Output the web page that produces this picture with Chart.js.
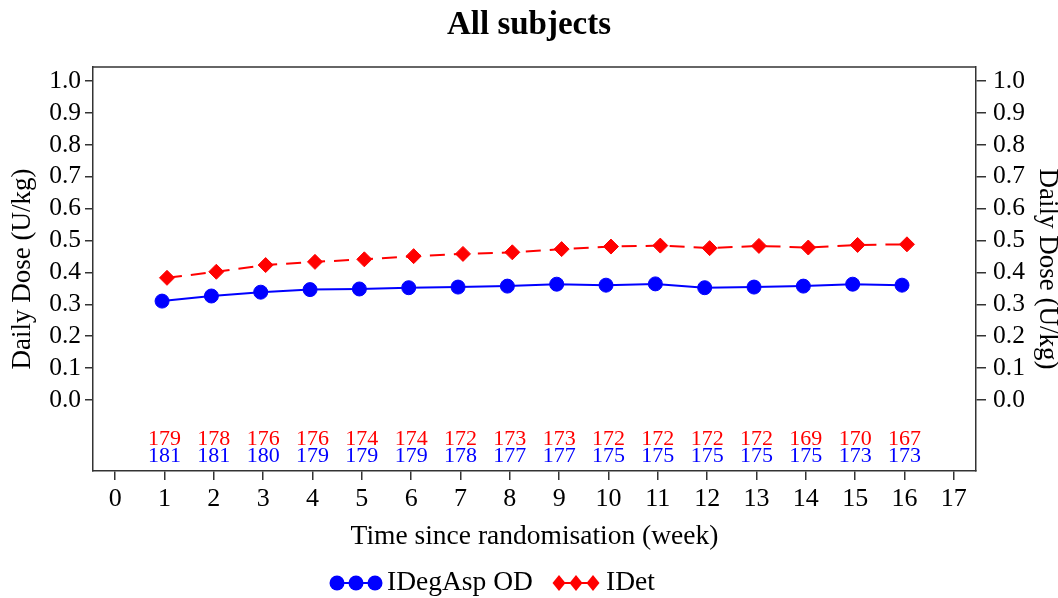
<!DOCTYPE html>
<html>
<head>
<meta charset="utf-8">
<script src="https://cdn.jsdelivr.net/npm/chart.js@4"></script>
<style>
html,body{margin:0;padding:0;background:#fff;}
#wrap{width:1058px;height:598px;}
</style>
</head>
<body>
<div id="wrap"><canvas id="c" width="1058" height="598"></canvas></div>
<script>
const weeks = [1,2,3,4,5,6,7,8,9,10,11,12,13,14,15,16];
const idegaspDose = [0.310,0.326,0.338,0.346,0.348,0.352,0.354,0.357,0.363,0.360,0.364,0.352,0.354,0.357,0.363,0.360];
const idetDose = [0.383,0.402,0.423,0.433,0.441,0.451,0.458,0.463,0.473,0.481,0.484,0.476,0.483,0.478,0.486,0.488];
const idegaspN = [181,181,180,179,179,179,178,177,177,175,175,175,175,175,173,173];
const idetN = [179,178,176,176,174,174,172,173,173,172,172,172,172,169,170,167];
const yTickValues = [0,0.1,0.2,0.3,0.4,0.5,0.6,0.7,0.8,0.9,1.0];
const xTickValues = [0,1,2,3,4,5,6,7,8,9,10,11,12,13,14,15,16,17];
const seriesNames = ['IDegAsp OD','IDet'];
const titleText = 'All subjects';
const yTitle = 'Daily Dose (U/kg)';
const xTitle = 'Time since randomisation (week)';

const SERIF = "'Liberation Serif','Times New Roman',serif";
const BLUE = '#0000ff', RED = '#ff0000', AX = '#333333';
const YMIN = -0.2226, YMAX = 1.0439;
const X_OFF = 0.05;

const countsPlugin = {
  id: 'extras',
  afterDraw(chart) {
    const ctx = chart.ctx, xs = chart.scales.x, ys = chart.scales.y, a = chart.chartArea;
    ctx.save();
    // top border of box
    ctx.strokeStyle = AX; ctx.lineWidth = 1.5;
    ctx.beginPath(); ctx.moveTo(a.left, a.top); ctx.lineTo(a.right, a.top); ctx.stroke();
    // counts
    ctx.font = '22px ' + SERIF;
    ctx.textAlign = 'center'; ctx.textBaseline = 'middle';
    weeks.forEach((w, i) => {
      const px = xs.getPixelForValue(w);
      ctx.fillStyle = RED;
      ctx.fillText(String(idetN[i]), px, ys.getPixelForValue(-0.122));
      ctx.fillStyle = BLUE;
      ctx.fillText(String(idegaspN[i]), px, ys.getPixelForValue(-0.175));
    });
    // legend
    const ly = 583;
    ctx.lineWidth = 2;
    ctx.strokeStyle = BLUE; ctx.fillStyle = BLUE;
    ctx.beginPath(); ctx.moveTo(337, ly); ctx.lineTo(375, ly); ctx.stroke();
    [337,356,375].forEach(cx => { ctx.beginPath(); ctx.arc(cx, ly, 7.5, 0, Math.PI*2); ctx.fill(); });
    ctx.strokeStyle = RED; ctx.fillStyle = RED;
    ctx.beginPath(); ctx.moveTo(559, ly); ctx.lineTo(593, ly); ctx.stroke();
    [559,576,593].forEach(cx => { ctx.beginPath(); ctx.moveTo(cx, ly-8); ctx.lineTo(cx+6.5, ly); ctx.lineTo(cx, ly+8); ctx.lineTo(cx-6.5, ly); ctx.closePath(); ctx.fill(); });
    ctx.fillStyle = '#000';
    ctx.font = '27.5px ' + SERIF;
    ctx.textAlign = 'left';
    ctx.fillText(seriesNames[0], 387, ly);
    ctx.fillText(seriesNames[1], 606, ly);
    ctx.restore();
  }
};

new Chart(document.getElementById('c'), {
  type: 'line',
  data: {
    datasets: [
      {
        label: seriesNames[0],
        data: weeks.map((w, i) => ({x: w - X_OFF, y: idegaspDose[i]})),
        borderColor: BLUE, backgroundColor: BLUE,
        borderWidth: 2, pointStyle: 'circle', pointRadius: 7, pointBorderWidth: 1,
        pointBackgroundColor: BLUE, pointBorderColor: BLUE, yAxisID: 'y', tension: 0
      },
      {
        label: seriesNames[1],
        data: weeks.map((w, i) => ({x: w + X_OFF, y: idetDose[i]})),
        borderColor: RED, backgroundColor: RED,
        borderWidth: 2, borderDash: [15, 9], pointStyle: 'rectRot', pointRadius: 7.5, pointBorderWidth: 1,
        pointBackgroundColor: RED, pointBorderColor: RED, yAxisID: 'y', tension: 0
      }
    ]
  },
  options: {
    responsive: false,
    animation: false,
    layout: {padding: 0},
    plugins: {
      legend: {display: false},
      tooltip: {enabled: false},
      title: {
        display: true, text: titleText, color: '#000',
        font: {family: SERIF, size: 33, weight: 'bold', lineHeight: 1.2},
        padding: {top: 6, bottom: 21.4}
      }
    },
    scales: {
      x: {
        type: 'linear', position: 'bottom', min: -0.45, max: 17.45,
        afterFit(s) { s.height = 127; },
        afterBuildTicks(s) { s.ticks = xTickValues.map(v => ({value: v})); },
        ticks: {color: '#000', font: {family: SERIF, size: 26}, padding: 4, autoSkip: false, maxRotation: 0},
        grid: {drawOnChartArea: false, drawTicks: true, tickLength: 9, color: AX, lineWidth: 1.5},
        border: {display: true, color: AX, width: 1.5},
        title: {display: true, text: xTitle, color: '#000', font: {family: SERIF, size: 27.5, lineHeight: 1}, padding: {top: 0, bottom: 47}}
      },
      y: {
        type: 'linear', position: 'left', min: YMIN, max: YMAX,
        afterFit(s) { s.width = 93; },
        afterBuildTicks(s) { s.ticks = yTickValues.map(v => ({value: v})); },
        ticks: {color: '#000', font: {family: SERIF, size: 25.5}, padding: 4, callback: v => v.toFixed(1)},
        grid: {drawOnChartArea: false, drawTicks: true, tickLength: 8, color: AX, lineWidth: 1.5},
        border: {display: true, color: AX, width: 1.5},
        title: {display: true, text: yTitle, color: '#000', font: {family: SERIF, size: 27, lineHeight: 1}, padding: {top: 9}}
      },
      y2: {
        type: 'linear', position: 'right', min: YMIN, max: YMAX,
        afterFit(s) { s.width = 82; },
        afterBuildTicks(s) { s.ticks = yTickValues.map(v => ({value: v})); },
        ticks: {color: '#000', font: {family: SERIF, size: 25.5}, padding: 7, callback: v => v.toFixed(1)},
        grid: {drawOnChartArea: false, drawTicks: true, tickLength: 10, color: AX, lineWidth: 1.5},
        border: {display: true, color: AX, width: 1.5},
        title: {display: true, text: yTitle, color: '#000', font: {family: SERIF, size: 27, lineHeight: 0.75}, padding: {top: 1}}
      }
    }
  },
  plugins: [countsPlugin]
});
</script>
</body>
</html>
